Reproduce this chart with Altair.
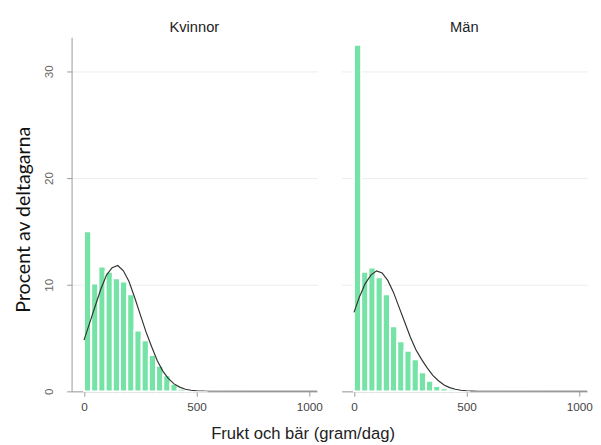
import altair as alt
import pandas as pd

# ---- data ----
bin_width = 32
kvinnor_pct = [15.0, 10.1, 11.7, 11.2, 10.6, 10.3, 9.1, 5.7, 4.8, 3.4, 2.4, 1.5, 0.7, 0.25, 0.15, 0.1, 0.05]
man_pct = [32.5, 11.2, 11.6, 10.7, 9.1, 6.1, 4.7, 3.8, 3.0, 1.8, 1.0, 0.5, 0.3, 0.2, 0.1, 0.1]

curve_x = [0, 25, 50, 75, 100, 125, 150, 175, 200, 225, 250, 275, 300, 325, 350,
           375, 400, 425, 450, 475, 500, 550, 1035]
kvinnor_curve = [4.8, 6.4, 8.0, 9.6, 10.9, 11.6, 11.8, 11.3, 10.3, 8.8, 7.2, 5.6, 4.2,
                 2.9, 1.9, 1.2, 0.7, 0.4, 0.2, 0.1, 0.05, 0.01, 0.0]
man_curve = [7.4, 8.9, 10.1, 10.9, 11.3, 11.1, 10.4, 9.3, 7.9, 6.5, 5.1, 3.9, 3.0,
             2.2, 1.5, 1.0, 0.6, 0.35, 0.2, 0.1, 0.05, 0.01, 0.0]

panel_titles = ["Kvinnor", "Män"]
x_ticks = [0, 500, 1000]
y_ticks = [0, 10, 20, 30]

GREEN = "#76e3a6"
AXIS_GRAY = "#9a9a9a"

xs = alt.Scale(domain=[-55, 1035], nice=False, zero=False)
ys = alt.Scale(domain=[0, 33.2], nice=False)


def bars_df(vals):
    return pd.DataFrame({
        "start": [i * bin_width for i in range(len(vals))],
        "end": [(i + 1) * bin_width for i in range(len(vals))],
        "base": [0] * len(vals),
        "pct": vals,
    })


def panel(title, vals, curve, show_y):
    x_axis = alt.Axis(values=x_ticks, format="d", title=None, grid=False,
                      domainColor=AXIS_GRAY, tickColor=AXIS_GRAY, labelColor="#444",
                      labelFontSize=12, labelFont="Liberation Sans", tickSize=5,
                      labelPadding=6, labelFlush=False)
    if show_y:
        y_axis = alt.Axis(values=y_ticks, title="Procent av deltagarna", grid=True,
                          gridColor="#ececec", domainColor=AXIS_GRAY, tickColor=AXIS_GRAY,
                          tickSize=5, labelAngle=270, labelAlign="center",
                          labelBaseline="bottom", labelColor="#666", labelFontSize=12,
                          labelFont="Liberation Sans", labelPadding=11,
                          titleFont="Lato", titleFontSize=20, titleFontWeight="normal",
                          titleColor="#111", titlePadding=10, titleY=186)
    else:
        y_axis = alt.Axis(values=y_ticks, title=None, grid=True, gridColor="#ececec",
                          labels=False, ticks=False, domain=False)
    b = alt.Chart(bars_df(vals)).mark_bar(color=GREEN, stroke="white", strokeWidth=2).encode(
        x=alt.X("start:Q", scale=xs, axis=x_axis),
        x2="end:Q",
        y=alt.Y("pct:Q", scale=ys, axis=y_axis),
        y2="base:Q",
    )
    line_df = pd.DataFrame({"x": curve_x, "y": curve})
    l = alt.Chart(line_df).mark_line(color="#333333", strokeWidth=1.2, clip=True).encode(
        x=alt.X("x:Q", scale=xs, axis=x_axis),
        y=alt.Y("y:Q", scale=ys, axis=y_axis),
    )
    return alt.layer(b, l).properties(
        width=251, height=362,
        title=alt.TitleParams(title, fontSize=15, fontWeight="normal", font="Liberation Sans",
                              color="#222", offset=2, anchor="middle"),
    )


chart = alt.hconcat(
    panel(panel_titles[0], kvinnor_pct, kvinnor_curve, True),
    panel(panel_titles[1], man_pct, man_curve, False),
    spacing=19,
).properties(
    title=alt.TitleParams("Frukt och bär (gram/dag)", orient="bottom", anchor="middle",
                          fontSize=17, fontWeight="normal", font="Liberation Sans",
                          color="#222", offset=14),
    padding={"left": 5, "right": 0, "top": 8, "bottom": 0},
    background="white",
).configure_view(stroke=None)

chart.save("out.html", embed_options={"renderer": "svg", "actions": False})
